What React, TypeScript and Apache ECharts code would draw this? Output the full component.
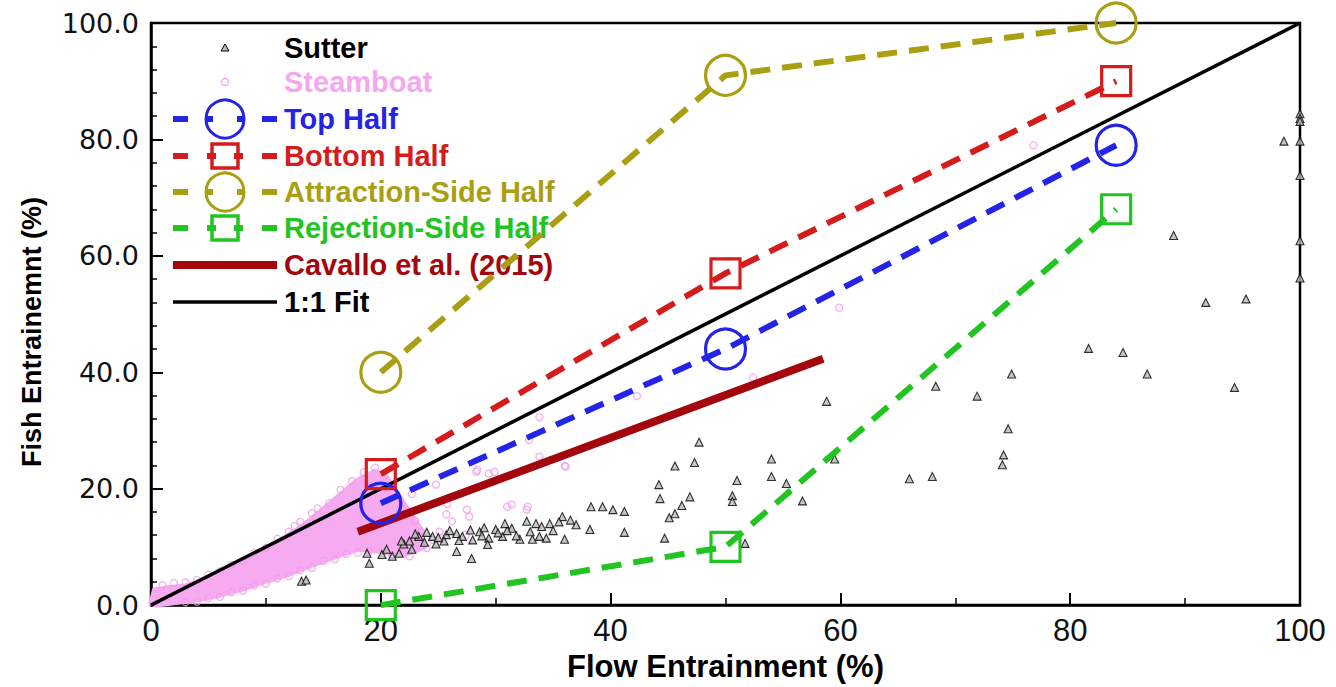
import { useEffect, useRef } from "react";
import * as echarts from "echarts";

// ---------- data ----------
const xTickValues = [0, 20, 40, 60, 80, 100];
const yTickValues = [0, 20, 40, 60, 80, 100];

const topHalf = [[20, 17.5], [50, 44], [84, 79]];
const bottomHalf = [[20, 22.5], [50, 57], [84, 90]];
const attractionHalf = [[20, 40], [50, 91], [84, 100]];
const rejectionHalf = [[20, 0], [50, 10], [84, 68]];
const cavallo = [[18, 12.6], [58.5, 42.3]];
const oneToOne = [[0, 0], [100, 100]];

// dense Steamboat cloud outline (upper edge then lower edge back)
const steamboatCloud = [
  [0, 0.3], [0.3, 2.6], [1.5, 3.0], [3, 3.3], [5, 4.6], [7, 6.4], [9, 8.5], [11, 10.8],
  [13, 13.3], [15, 16.5], [16.5, 19], [18, 21.5], [19.5, 23], [20.5, 22], [21.5, 19],
  [22.5, 16], [23.5, 13], [23.8, 10], [22, 8.6], [20, 9.2], [18, 9.6], [16, 8.3],
  [14, 6.8], [12, 5.3], [10, 4.1], [8, 2.8], [6, 1.7], [4, 0.9], [2, 0.4], [0.5, 0],
];

const steamboat = [
  [2, 3.8], [4, 4.3], [6, 5.8], [8, 7.6], [10, 9.8], [12, 12.6], [13, 14.3], [14, 15.8],
  [15.5, 17.5], [16.5, 19.8], [17.5, 21.3], [18.5, 22.8], [19.5, 23.6],
  [1, 3.4], [3, 3.9], [5, 5.2], [7, 6.9], [9, 9], [11, 11.4], [12.5, 13.6], [14.5, 16.6],
  [3, 0.5], [5, 1.2], [7, 2.2], [9, 3.4], [11, 4.6], [13, 6], [15, 7.6], [17, 8.8],
  [4, 0.6], [6, 1.4], [8, 2.5], [10, 3.7], [12, 5], [14, 6.4], [16, 7.9], [18, 9],
  [19, 9.3], [21, 8.6], [22.5, 8.4], [24, 9.8], [24.5, 11.2], [23.5, 12.6], [23, 14.5],
  [28.3, 22.9], [29.4, 22.6], [31.4, 17.3], [32.8, 16.9], [25.7, 15.6], [27.5, 16.4],
  [36.1, 23.8], [33.8, 25.5], [33.8, 32.3], [25.1, 12.6], [27.4, 12.1], [22.7, 19.1],
  [24.8, 20.7], [25.8, 17.4], [26.2, 14.4], [59.9, 51.1], [52.4, 39.1], [42.3, 35.9],
  [36.0, 23.9], [76.8, 79.0], [32.9, 28.4], [28.4, 23.2], [29.9, 22.9], [31, 16.9],
  [32.7, 16.4], [27.7, 15.2], [25.3, 11.5],
];

const sutter = [
  [13.1, 4.1], [13.5, 4.3],
  [18.8, 8.9], [19.0, 7.2], [20.1, 8.7], [21.0, 8.4], [20.5, 9.6], [21.6, 8.9], [22.7, 9.6],
  [23.3, 11.8], [24.5, 11.8], [25.7, 12.1], [26.6, 12.3], [27.1, 11.8], [28.6, 12.6],
  [29.4, 11.5], [30.0, 13.0], [30.6, 11.8], [31.4, 13.2], [32.1, 11.3], [32.7, 14.4],
  [33.2, 11.3], [33.5, 14.0], [34.4, 11.5], [34.7, 14.0], [35.8, 15.2], [36.0, 11.3],
  [37.0, 13.8], [38.2, 13.0], [38.3, 16.9], [39.3, 16.9], [40.2, 16.4], [41.2, 16.1],
  [41.2, 12.5], [26.6, 9.2], [27.9, 8.0], [29.3, 10.4],
  [22.5, 11], [23.8, 10.8], [24.8, 10.5], [25.5, 11], [26, 12.8], [27.8, 12.9], [28, 11.2],
  [29, 13.3], [30.2, 12.4], [31, 12.8], [31.8, 11.9], [33, 12.6], [34, 13.5], [35, 12.8],
  [35.5, 14.3], [36.5, 14.6], [33.8, 11.8], [30.8, 14], [28.8, 11.9], [24, 12.5], [22, 10.5],
  [25, 11.6], [26.8, 11.1], [23, 12.2], [21.8, 11],
  [44.7, 11.5], [51.7, 10.6], [44.2, 20.7], [44.3, 18.3], [46.9, 18.6], [46.2, 17.1],
  [45.6, 15.7], [45.1, 15.0], [47.7, 28.0], [45.6, 23.9], [47.3, 24.5], [51.0, 21.4],
  [50.6, 18.8], [50.6, 17.8], [54.0, 25.1], [54.0, 22.1], [55.3, 20.9], [56.7, 17.9],
  [59.5, 25.1], [58.8, 35.0],
  [81.6, 44.1], [84.6, 43.4], [74.9, 39.7], [68.3, 37.6], [71.9, 35.9], [74.6, 30.3],
  [74.2, 25.8], [74.1, 24.1], [66.0, 21.7], [68.0, 22.1],
  [89.0, 63.5], [91.8, 52.0], [95.3, 52.6], [86.7, 39.7], [94.3, 37.4], [98.6, 79.7],
  [100, 84.4], [100, 83.6], [100, 83.1], [100, 79.7], [100, 73.8], [100, 62.6], [100, 56.2],
];

const legendLabels = [
  "Sutter", "Steamboat", "Top Half", "Bottom Half", "Attraction-Side Half",
  "Rejection-Side Half", "Cavallo et al. (2015)", "1:1 Fit",
];

// ---------- styles ----------
const C = {
  sutter: "#000000",
  steam: "#f39be9",
  steamText: "#f5a8ee",
  cloud: "#f6aaf0",
  top: "#2424e6",
  bottom: "#d41c1c",
  attr: "#aa9e12",
  rej: "#22c422",
  cav: "#a3060c",
  fit: "#000000",
};

function buildLegend() {
  const rowsY = [48, 82, 119, 156, 192, 228, 265, 302];
  const x0 = 173, x1 = 277, xc = 225, tx = 284;
  const colors = [C.sutter, C.steamText, C.top, C.bottom, C.attr, C.rej, C.cav, C.fit];
  const els: any[] = [];
  rowsY.forEach((y, i) => {
    const col = colors[i];
    if (i === 0) {
      els.push({ type: "polygon", shape: { points: [[xc - 4, y + 3], [xc + 4, y + 3], [xc, y - 4]] }, style: { fill: "#bbb", stroke: "#000", lineWidth: 1 } });
    } else if (i === 1) {
      els.push({ type: "circle", shape: { cx: xc, cy: y, r: 3.5 }, style: { fill: "none", stroke: C.steam, lineWidth: 1.2 } });
    } else if (i >= 2 && i <= 5) {
      const lc = [C.top, C.bottom, C.attr, C.rej][i - 2];
      const segs = [[x0, x0 + 15], [x1 - 15, x1]];
      segs.forEach((s) => els.push({ type: "line", shape: { x1: s[0], y1: y, x2: s[1], y2: y }, style: { stroke: lc, lineWidth: 6 } }));
      if (i === 2 || i === 4) {
        els.push({ type: "circle", shape: { cx: xc, cy: y, r: 19 }, style: { fill: "none", stroke: lc, lineWidth: 3 } });
        els.push({ type: "line", shape: { x1: xc - 19, y1: y, x2: xc - 12, y2: y }, style: { stroke: lc, lineWidth: 6 } });
        els.push({ type: "line", shape: { x1: xc + 12, y1: y, x2: xc + 19, y2: y }, style: { stroke: lc, lineWidth: 6 } });
      } else {
        els.push({ type: "rect", shape: { x: xc - 13, y: y - 12, width: 26, height: 24 }, style: { fill: "none", stroke: lc, lineWidth: 3.5 } });
        els.push({ type: "line", shape: { x1: xc - 18, y1: y, x2: xc - 9, y2: y }, style: { stroke: lc, lineWidth: 6 } });
        els.push({ type: "line", shape: { x1: xc + 9, y1: y, x2: xc + 18, y2: y }, style: { stroke: lc, lineWidth: 6 } });
      }
    } else if (i === 6) {
      els.push({ type: "line", shape: { x1: x0, y1: y, x2: x1, y2: y }, style: { stroke: C.cav, lineWidth: 8 } });
    } else {
      els.push({ type: "line", shape: { x1: x0, y1: y, x2: x1, y2: y }, style: { stroke: C.fit, lineWidth: 3.5 } });
    }
    els.push({
      type: "text", x: tx, y, style: {
        text: legendLabels[i], fill: col, fontSize: 29, fontWeight: "bold",
        fontFamily: "Liberation Sans, Arial, sans-serif", textVerticalAlign: "middle", verticalAlign: "middle",
      },
    });
  });
  return els;
}

function dashedSeries(name: string, data: number[][], color: string, symbol: string, size: number) {
  return {
    type: "line", name, data, z: 6, symbol, symbolSize: size,
    lineStyle: { color, width: 6, type: [20, 12], cap: "butt" },
    itemStyle: { color: "rgba(255,255,255,0)", borderColor: color, borderWidth: 3.2 },
    color,
  };
}

export default function App() {
  const ref = useRef<HTMLDivElement>(null);
  useEffect(() => {
    document.body.style.margin = "0";
    const chart = echarts.init(ref.current!, null, { renderer: "svg" });
    const axisFont = "Liberation Sans, Arial, sans-serif";
    chart.setOption({
      animation: false,
      backgroundColor: "#ffffff",
      grid: { left: 151, right: 36, top: 23, bottom: 78, show: true, borderColor: "#000", borderWidth: 2.5, backgroundColor: "transparent" },
      xAxis: {
        type: "value", min: 0, max: 100, interval: 20,
        name: "Flow Entrainment (%)", nameLocation: "middle", nameGap: 38,
        nameTextStyle: { fontSize: 31, fontWeight: "bold", color: "#000", fontFamily: axisFont },
        axisLine: { show: true, onZero: false, lineStyle: { color: "#000", width: 2.5 } },
        axisTick: { show: true, inside: true, length: 12, lineStyle: { color: "#000", width: 2 } },
        minorTick: { show: true, splitNumber: 2, length: 7, lineStyle: { color: "#000", width: 1.5 } },
        splitLine: { show: false },
        axisLabel: {
          margin: 10, fontSize: 31, color: "#111", fontFamily: "Liberation Sans Narrow, Arial Narrow, sans-serif",
          formatter: (v: number) => (xTickValues.includes(v) ? String(v) : ""),
        },
      },
      yAxis: {
        type: "value", min: 0, max: 100, interval: 20,
        name: "Fish Entrainemnt (%)", nameLocation: "middle", nameGap: 106, nameRotate: 90,
        nameTextStyle: { fontSize: 27, fontWeight: "bold", color: "#000", fontFamily: axisFont, padding: [0, 36, 0, 0] },
        axisLine: { show: true, onZero: false, lineStyle: { color: "#000", width: 2.5 } },
        axisTick: { show: true, inside: true, length: 12, lineStyle: { color: "#000", width: 2 } },
        minorTick: { show: true, splitNumber: 5, length: 6, lineStyle: { color: "#000", width: 1.5 } },
        splitLine: { show: false },
        axisLabel: {
          margin: 12, fontSize: 27, color: "#111", fontFamily: "DejaVu Sans, sans-serif",
          formatter: (v: number) => (yTickValues.includes(v) ? v.toFixed(1) : ""),
        },
      },
      graphic: buildLegend(),
      series: [
        {
          type: "custom", name: "Steamboat cloud", z: 1, silent: true, data: steamboatCloud,
          renderItem: (params: any, api: any) => {
            if (params.dataIndex !== 0) return null;
            const pts = steamboatCloud.map((p) => api.coord(p));
            return { type: "polygon", shape: { points: pts }, style: { fill: C.cloud, stroke: C.cloud, lineWidth: 5, lineJoin: "round" } };
          },
        },
        {
          type: "scatter", name: "Steamboat", data: steamboat, z: 2, symbol: "circle", symbolSize: 7,
          itemStyle: { color: "rgba(255,255,255,0)", borderColor: C.steam, borderWidth: 1.3 },
        },
        {
          type: "scatter", name: "Sutter", data: sutter, z: 3, symbol: "triangle", symbolSize: 8,
          itemStyle: { color: "#b8b8b8", borderColor: "#000", borderWidth: 1.1 },
        },
        {
          type: "line", name: "1:1 Fit", data: oneToOne, z: 4, symbol: "none",
          lineStyle: { color: C.fit, width: 3.5 },
        },
        {
          type: "line", name: "Cavallo et al. (2015)", data: cavallo, z: 5, symbol: "none",
          lineStyle: { color: C.cav, width: 8 },
        },
        dashedSeries("Top Half", topHalf, C.top, "circle", 40),
        dashedSeries("Bottom Half", bottomHalf, C.bottom, "rect", 29),
        dashedSeries("Attraction-Side Half", attractionHalf, C.attr, "circle", 40),
        dashedSeries("Rejection-Side Half", rejectionHalf, C.rej, "rect", 29),
      ],
    });
    return () => chart.dispose();
  }, []);
  return <div ref={ref} style={{ width: 1336, height: 687 }} />;
}
